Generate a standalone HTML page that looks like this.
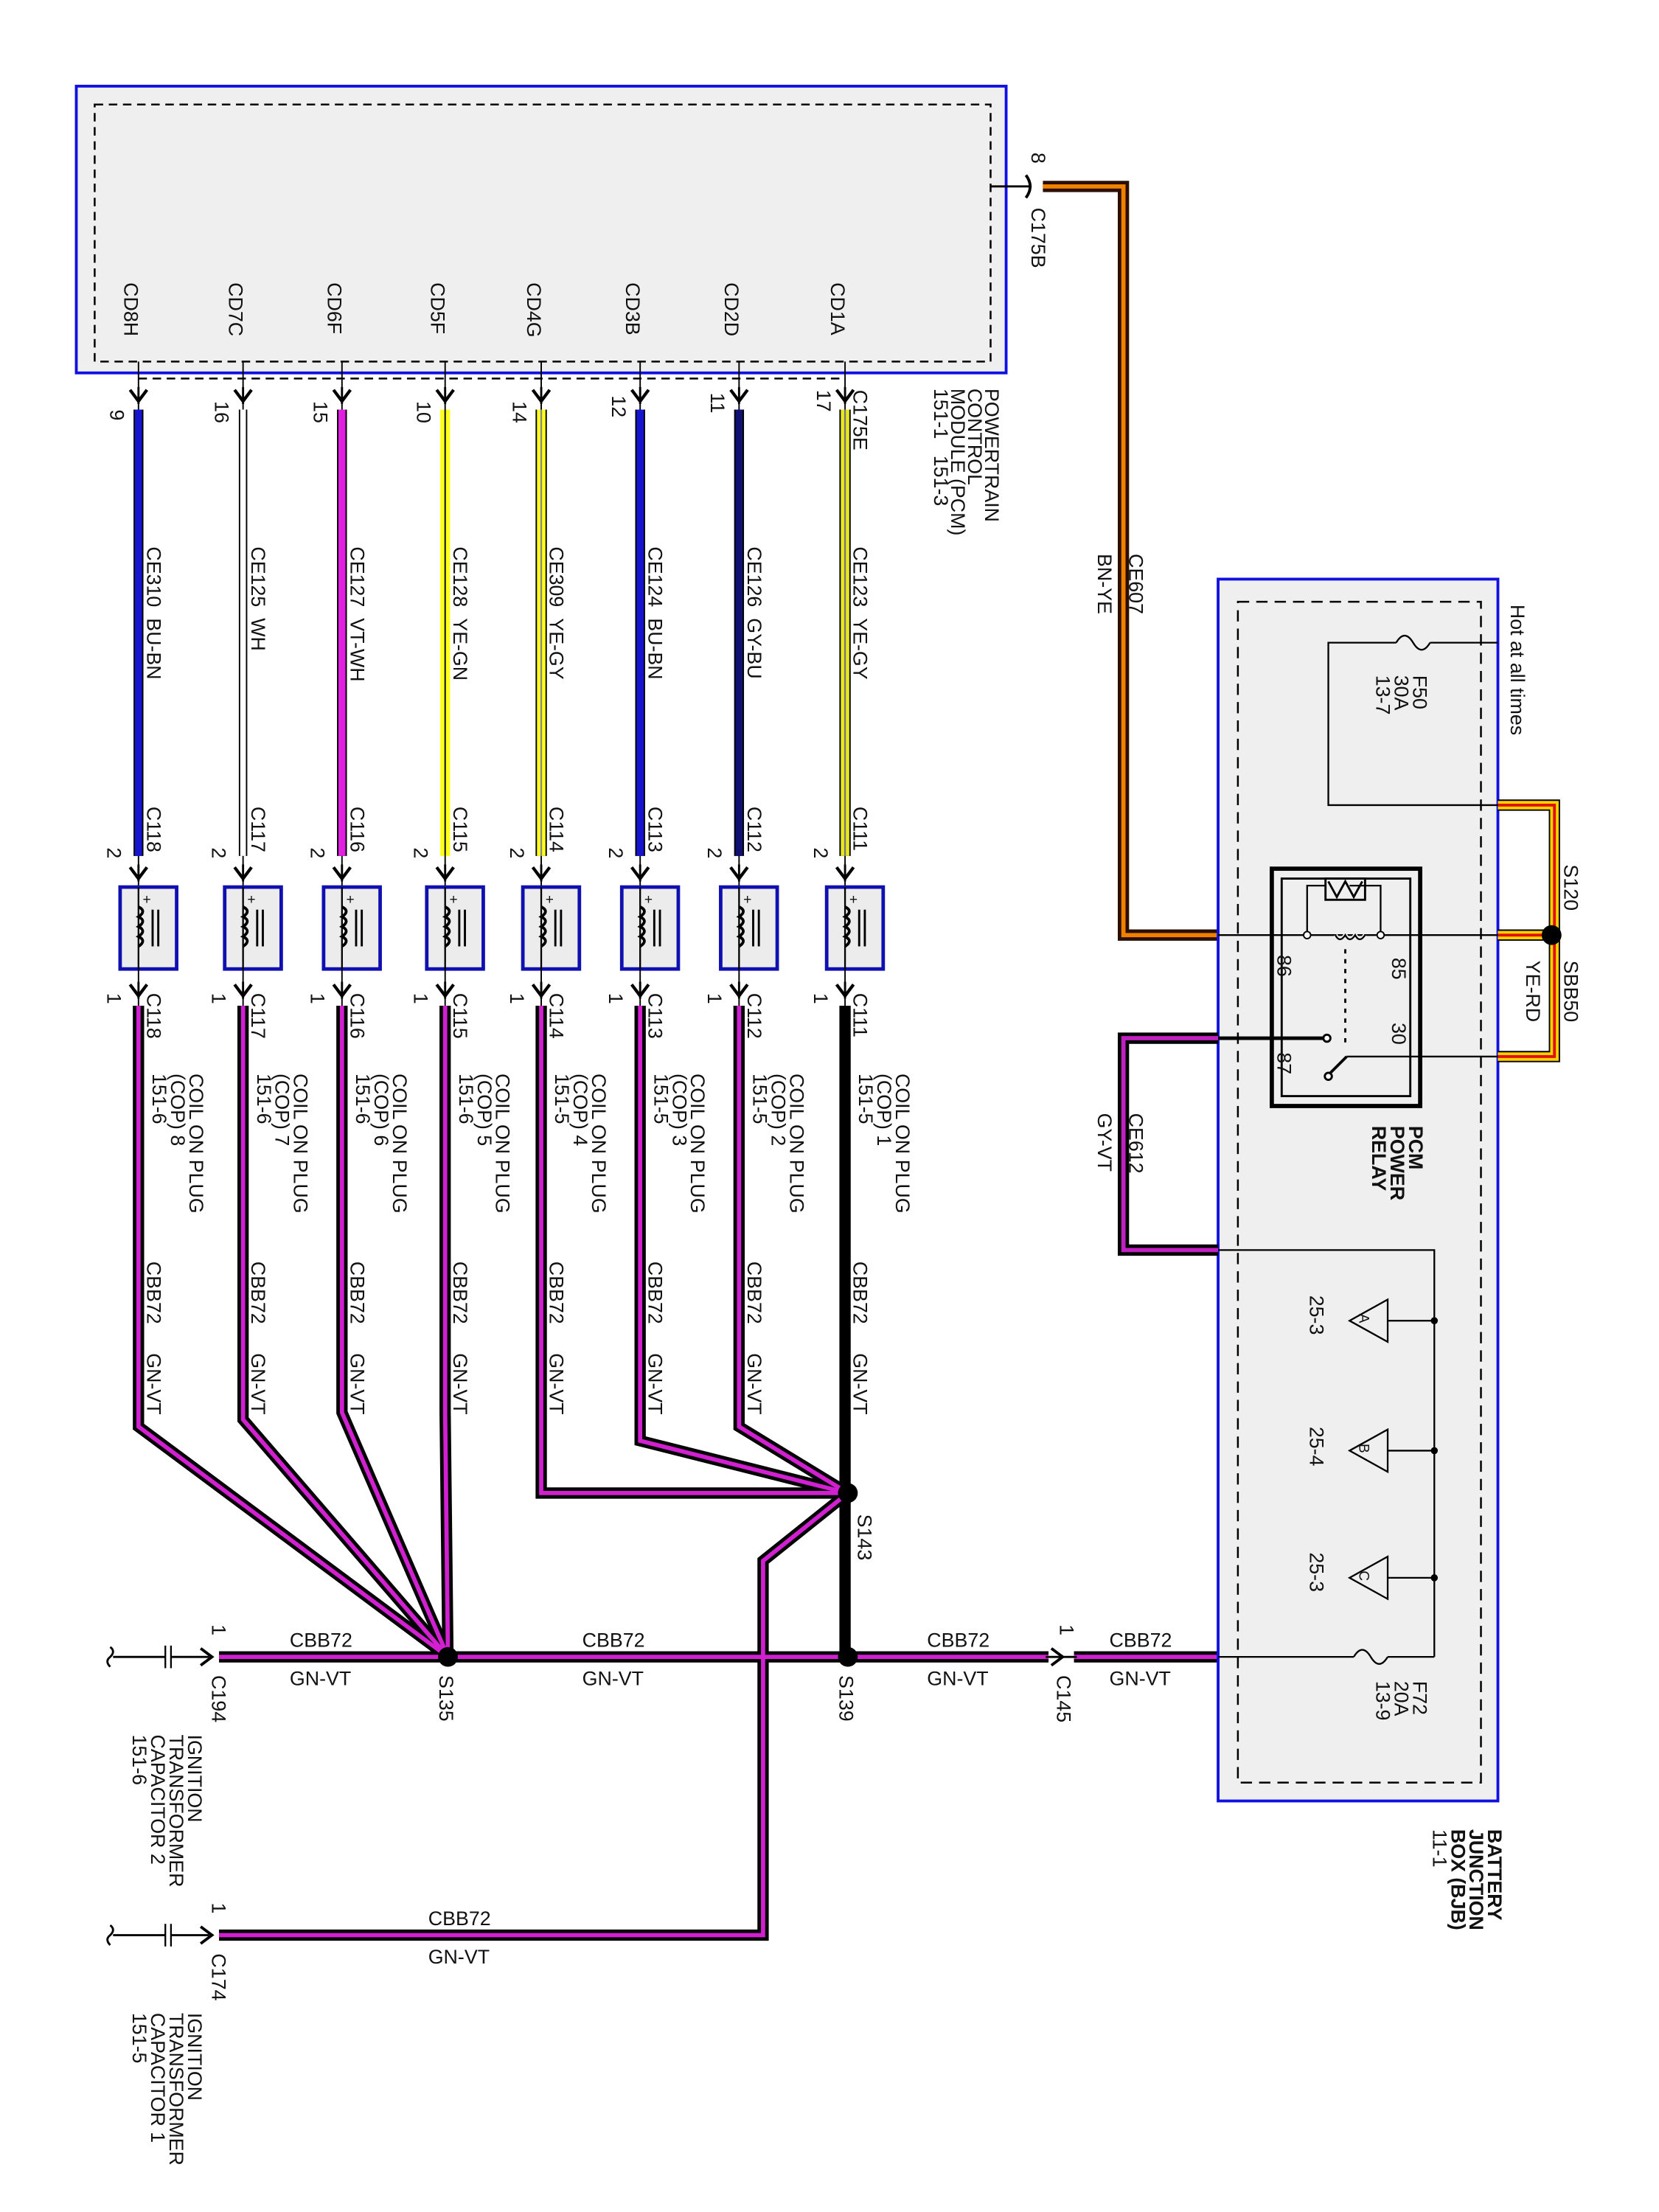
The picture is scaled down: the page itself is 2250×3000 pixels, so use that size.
<!DOCTYPE html>
<html><head><meta charset="utf-8"><style>
html,body{margin:0;padding:0;background:#fff}
svg{display:block}
text{font-family:"Liberation Sans",sans-serif;font-size:14px;fill:#111}
</style></head><body>
<svg width="2250" height="3000" viewBox="0 0 1174 1566" preserveAspectRatio="none" xmlns="http://www.w3.org/2000/svg">
<defs>
<g id="arr"><path d="M-6,-6 L0,2 L6,-6" fill="none" stroke="#000" stroke-width="2.2"/><line x1="0" y1="-8" x2="0" y2="4" stroke="#000" stroke-width="1.5"/></g>
<g id="coil">
<rect x="-13" y="0" width="40" height="58" fill="#ececec" stroke="#1010b0" stroke-width="2.5"/>
<line x1="0" y1="0" x2="0" y2="58" stroke="#000" stroke-width="1.2"/>
<path d="M0,14 q6,3 0,7 q6,3 0,7 q6,3 0,7 q6,3 0,7" fill="none" stroke="#000" stroke-width="2"/>
<line x1="10" y1="16" x2="10" y2="42" stroke="#000" stroke-width="1.5"/><line x1="14" y1="16" x2="14" y2="42" stroke="#000" stroke-width="1.5"/>
<text x="3" y="12" style="font-size:10px">+</text>
</g>
<g id="col">
<line x1="0" y1="256" x2="0" y2="290" stroke="#000" stroke-width="1"/><use href="#arr" transform="translate(0,282)"/>
<use href="#arr" transform="translate(0,620)"/><line x1="0" y1="606" x2="0" y2="628" stroke="#000" stroke-width="1"/>
<use href="#coil" transform="translate(0,628)"/>
<line x1="0" y1="686" x2="0" y2="712" stroke="#000" stroke-width="1"/><use href="#arr" transform="translate(0,703)"/>
</g>
<g id="cap">
<path d="M-2,-7 q4,3 0,7 q-4,3 0,7" fill="none" stroke="#000" stroke-width="1.5"/>
<line x1="0" y1="0" x2="37" y2="0" stroke="#000" stroke-width="1.5"/>
<line x1="37" y1="-8" x2="37" y2="8" stroke="#000" stroke-width="1.2"/>
<line x1="41" y1="-8" x2="41" y2="8" stroke="#000" stroke-width="1.2"/>
<line x1="41" y1="0" x2="68" y2="0" stroke="#000" stroke-width="1.5"/>
<path d="M62,-6 L70,0 L62,6" fill="none" stroke="#000" stroke-width="2"/>
</g>
</defs>

<!-- PCM -->
<rect x="54" y="61" width="658" height="203" fill="#efefef" stroke="#1010e0" stroke-width="2"/>
<rect x="67" y="74" width="634" height="182" fill="none" stroke="#000" stroke-width="1.3" stroke-dasharray="6,4"/>
<line x1="98" y1="268" x2="598" y2="268" stroke="#000" stroke-width="1.3" stroke-dasharray="6,4"/>

<!-- CE607 -->
<line x1="701" y1="132" x2="730" y2="132" stroke="#000" stroke-width="1.5"/>
<path d="M726,124 q6,8 0,16" fill="none" stroke="#000" stroke-width="2"/>
<path d="M738,132 H795 V662 H862" fill="none" stroke="#2a0e00" stroke-width="8"/>
<path d="M738,132 H795 V662 H862" fill="none" stroke="#f08000" stroke-width="3"/>

<!-- columns -->
<g transform="translate(98,0)"><line x1="0" y1="290" x2="0" y2="606" stroke="#000" stroke-width="7"/><line x1="0" y1="290" x2="0" y2="606" stroke="#1515d0" stroke-width="5"/><use href="#col"/></g>
<g transform="translate(172,0)"><line x1="0" y1="290" x2="0" y2="606" stroke="#000" stroke-width="6"/><line x1="0" y1="290" x2="0" y2="606" stroke="#fff" stroke-width="4"/><use href="#col"/></g>
<g transform="translate(242,0)"><line x1="0" y1="290" x2="0" y2="606" stroke="#000" stroke-width="7"/><line x1="0" y1="290" x2="0" y2="606" stroke="#e020e0" stroke-width="5"/><use href="#col"/></g>
<g transform="translate(315,0)"><line x1="0" y1="290" x2="0" y2="606" stroke="#ffff20" stroke-width="7"/><line x1="0" y1="290" x2="0" y2="606" stroke="#000" stroke-width="1"/><use href="#col"/></g>
<g transform="translate(383,0)"><line x1="0" y1="290" x2="0" y2="606" stroke="#000" stroke-width="8"/><line x1="0" y1="290" x2="0" y2="606" stroke="#ffff20" stroke-width="6"/><line x1="0" y1="290" x2="0" y2="606" stroke="#888" stroke-width="1.2"/><use href="#col"/></g>
<g transform="translate(453,0)"><line x1="0" y1="290" x2="0" y2="606" stroke="#000" stroke-width="7"/><line x1="0" y1="290" x2="0" y2="606" stroke="#1515d0" stroke-width="5"/><use href="#col"/></g>
<g transform="translate(523,0)"><line x1="0" y1="290" x2="0" y2="606" stroke="#000" stroke-width="7"/><line x1="0" y1="290" x2="0" y2="606" stroke="#101070" stroke-width="5"/><use href="#col"/></g>
<g transform="translate(598,0)"><line x1="0" y1="290" x2="0" y2="606" stroke="#000" stroke-width="8"/><line x1="0" y1="290" x2="0" y2="606" stroke="#e8e820" stroke-width="6"/><line x1="0" y1="290" x2="0" y2="606" stroke="#777" stroke-width="1.2"/><use href="#col"/></g>

<!-- GN-VT harness -->
<g fill="none">
<g stroke="#000" stroke-width="8">
<path d="M98,712 V1010 L317,1173"/><path d="M172,712 V1005 L317,1173"/><path d="M242,712 V1000 L317,1173"/><path d="M315,712 V1000 L317,1173"/>
<path d="M383,712 V1057 H600"/><path d="M453,712 V1020 L600,1057"/><path d="M523,712 V1010 L600,1057"/><path d="M598,712 V1173"/>
<path d="M600,1057 L540,1105 V1370 H155"/>
<path d="M155,1173 H862"/>
</g>
<g stroke="#d020d0" stroke-width="3">
<path d="M98,712 V1010 L317,1173"/><path d="M172,712 V1005 L317,1173"/><path d="M242,712 V1000 L317,1173"/><path d="M315,712 V1000 L317,1173"/>
<path d="M383,712 V1057 H600"/><path d="M453,712 V1020 L600,1057"/><path d="M523,712 V1010 L600,1057"/>
<path d="M600,1057 L540,1105 V1370 H155"/>
<path d="M155,1173 H598"/><path d="M602,1173 H862"/>
</g>
</g>
<circle cx="317" cy="1173" r="7" fill="#000"/><circle cx="600" cy="1173" r="7" fill="#000"/><circle cx="600" cy="1057" r="7" fill="#000"/>
<rect x="742" y="1165" width="18" height="16" fill="#fff"/>
<line x1="740" y1="1173" x2="762" y2="1173" stroke="#000" stroke-width="1.5"/>
<path d="M744,1167 L752,1173 L744,1179" fill="none" stroke="#000" stroke-width="2"/>
<use href="#cap" transform="translate(80,1173)"/>
<use href="#cap" transform="translate(80,1370)"/>

<!-- BJB -->
<rect x="862" y="410" width="198" height="865" fill="#efefef" stroke="#1010e0" stroke-width="2"/>
<rect x="876" y="426" width="172" height="836" fill="none" stroke="#000" stroke-width="1.3" stroke-dasharray="8,5"/>
<path d="M1060,455 H1012 M988,455 H940 V570 H1060" fill="none" stroke="#000" stroke-width="1.2"/>
<path d="M988,455 q6,-10 12,0 q6,10 12,0" fill="none" stroke="#000" stroke-width="1.2"/>
<path d="M1060,570 H1100 V748 H1060" fill="none" stroke="#000" stroke-width="8"/>
<path d="M1060,570 H1100 V748 H1060" fill="none" stroke="#ffd000" stroke-width="6"/>
<path d="M1060,570 H1100 V748 H1060" fill="none" stroke="#e01000" stroke-width="2"/>
<line x1="1060" y1="662" x2="1098" y2="662" stroke="#000" stroke-width="8"/>
<line x1="1060" y1="662" x2="1098" y2="662" stroke="#ffd000" stroke-width="6"/>
<line x1="1060" y1="662" x2="1098" y2="662" stroke="#e01000" stroke-width="2"/>
<circle cx="1098" cy="662" r="7" fill="#000"/>
<rect x="900" y="615" width="105" height="168" fill="none" stroke="#000" stroke-width="3"/>
<rect x="907" y="622" width="91" height="154" fill="none" stroke="#000" stroke-width="1.5"/>
<line x1="862" y1="662" x2="1060" y2="662" stroke="#000" stroke-width="1.2"/>
<path d="M925,662 V627 H938 M955,627 H977 V662" fill="none" stroke="#000" stroke-width="1.2"/>
<rect x="938" y="622" width="28" height="15" fill="none" stroke="#000" stroke-width="1.5"/>
<path d="M940,624 L946,635 L952,624 L958,635 L964,624" fill="none" stroke="#000" stroke-width="1.5"/>
<path d="M945,662 q3,6 7,0 q3,6 7,0 q3,6 7,0" fill="none" stroke="#efefef" stroke-width="3"/>
<path d="M945,662 q3,6 7,0 q3,6 7,0 q3,6 7,0" fill="none" stroke="#000" stroke-width="1.2"/>
<circle cx="925" cy="662" r="2.5" fill="#fff" stroke="#000"/><circle cx="977" cy="662" r="2.5" fill="#fff" stroke="#000"/>
<line x1="952" y1="672" x2="952" y2="740" stroke="#000" stroke-width="1.5" stroke-dasharray="3,4"/>
<line x1="862" y1="735" x2="937" y2="735" stroke="#000" stroke-width="2.5"/><circle cx="939" cy="735" r="2.5" fill="#fff" stroke="#000" stroke-width="1.5"/>
<line x1="953" y1="748" x2="1060" y2="748" stroke="#000" stroke-width="1.2"/>
<line x1="953" y1="748" x2="941" y2="760" stroke="#000" stroke-width="2"/><circle cx="940" cy="762" r="2.5" fill="#fff" stroke="#000" stroke-width="1.5"/>
<path d="M862,735 H795 V885 H862" fill="none" stroke="#000" stroke-width="8"/>
<path d="M862,735 H795 V885 H862" fill="none" stroke="#c020c0" stroke-width="3"/>
<path d="M862,885 H1015 V1173" fill="none" stroke="#000" stroke-width="1.2"/>
<g stroke="#000" stroke-width="1.2" fill="#efefef">
<line x1="982" y1="935" x2="1015" y2="935"/><line x1="982" y1="1027" x2="1015" y2="1027"/><line x1="982" y1="1117" x2="1015" y2="1117"/>
<path d="M982,920 L982,950 L955,935 Z"/><path d="M982,1012 L982,1042 L955,1027 Z"/><path d="M982,1102 L982,1132 L955,1117 Z"/>
</g>
<circle cx="1015" cy="935" r="2.5" fill="#000"/><circle cx="1015" cy="1027" r="2.5" fill="#000"/><circle cx="1015" cy="1117" r="2.5" fill="#000"/>
<path d="M1015,1173 H982 M958,1173 H862" fill="none" stroke="#000" stroke-width="1.2"/>
<path d="M958,1173 q6,-10 12,0 q6,10 12,0" fill="none" stroke="#000" stroke-width="1.2"/>

<!-- rotated labels -->
<g>
<text transform="translate(88,200) rotate(90)">CD8H</text>
<text transform="translate(162,200) rotate(90)">CD7C</text>
<text transform="translate(232,200) rotate(90)">CD6F</text>
<text transform="translate(305,200) rotate(90)">CD5F</text>
<text transform="translate(373,200) rotate(90)">CD4G</text>
<text transform="translate(443,200) rotate(90)">CD3B</text>
<text transform="translate(513,200) rotate(90)">CD2D</text>
<text transform="translate(588,200) rotate(90)">CD1A</text>
<text transform="translate(78,290) rotate(90)">9</text>
<text transform="translate(152,284) rotate(90)">16</text>
<text transform="translate(222,284) rotate(90)">15</text>
<text transform="translate(295,284) rotate(90)">10</text>
<text transform="translate(363,284) rotate(90)">14</text>
<text transform="translate(433,280) rotate(90)">12</text>
<text transform="translate(503,278) rotate(90)">11</text>
<text transform="translate(578,276) rotate(90)">17</text>
<text transform="translate(604,276) rotate(90)">C175E</text>
<text transform="translate(104,387) rotate(90)">CE310&#160;&#160;BU-BN</text>
<text transform="translate(178,387) rotate(90)">CE125&#160;&#160;WH</text>
<text transform="translate(248,387) rotate(90)">CE127&#160;&#160;VT-WH</text>
<text transform="translate(321,387) rotate(90)">CE128&#160;&#160;YE-GN</text>
<text transform="translate(389,387) rotate(90)">CE309&#160;&#160;YE-GY</text>
<text transform="translate(459,387) rotate(90)">CE124&#160;&#160;BU-BN</text>
<text transform="translate(529,387) rotate(90)">CE126&#160;&#160;GY-BU</text>
<text transform="translate(604,387) rotate(90)">CE123&#160;&#160;YE-GY</text>
</g>
<g>
<text transform="translate(104,571) rotate(90)">C118</text><text transform="translate(76,600) rotate(90)">2</text>
<text transform="translate(178,571) rotate(90)">C117</text><text transform="translate(150,600) rotate(90)">2</text>
<text transform="translate(248,571) rotate(90)">C116</text><text transform="translate(220,600) rotate(90)">2</text>
<text transform="translate(321,571) rotate(90)">C115</text><text transform="translate(293,600) rotate(90)">2</text>
<text transform="translate(389,571) rotate(90)">C114</text><text transform="translate(361,600) rotate(90)">2</text>
<text transform="translate(459,571) rotate(90)">C113</text><text transform="translate(431,600) rotate(90)">2</text>
<text transform="translate(529,571) rotate(90)">C112</text><text transform="translate(501,600) rotate(90)">2</text>
<text transform="translate(604,571) rotate(90)">C111</text><text transform="translate(576,600) rotate(90)">2</text>
</g>
<g>
<text transform="translate(104,703) rotate(90)">C118</text><text transform="translate(76,703) rotate(90)">1</text>
<text transform="translate(178,703) rotate(90)">C117</text><text transform="translate(150,703) rotate(90)">1</text>
<text transform="translate(248,703) rotate(90)">C116</text><text transform="translate(220,703) rotate(90)">1</text>
<text transform="translate(321,703) rotate(90)">C115</text><text transform="translate(293,703) rotate(90)">1</text>
<text transform="translate(389,703) rotate(90)">C114</text><text transform="translate(361,703) rotate(90)">1</text>
<text transform="translate(459,703) rotate(90)">C113</text><text transform="translate(431,703) rotate(90)">1</text>
<text transform="translate(529,703) rotate(90)">C112</text><text transform="translate(501,703) rotate(90)">1</text>
<text transform="translate(604,703) rotate(90)">C111</text><text transform="translate(576,703) rotate(90)">1</text>
</g>
<g>
<text transform="translate(134,760) rotate(90)">COIL ON PLUG</text><text transform="translate(121,760) rotate(90)">(COP) 8</text><text transform="translate(108,760) rotate(90)">151-6</text>
<text transform="translate(208,760) rotate(90)">COIL ON PLUG</text><text transform="translate(195,760) rotate(90)">(COP) 7</text><text transform="translate(182,760) rotate(90)">151-6</text>
<text transform="translate(278,760) rotate(90)">COIL ON PLUG</text><text transform="translate(265,760) rotate(90)">(COP) 6</text><text transform="translate(252,760) rotate(90)">151-6</text>
<text transform="translate(351,760) rotate(90)">COIL ON PLUG</text><text transform="translate(338,760) rotate(90)">(COP) 5</text><text transform="translate(325,760) rotate(90)">151-6</text>
<text transform="translate(419,760) rotate(90)">COIL ON PLUG</text><text transform="translate(406,760) rotate(90)">(COP) 4</text><text transform="translate(393,760) rotate(90)">151-5</text>
<text transform="translate(489,760) rotate(90)">COIL ON PLUG</text><text transform="translate(476,760) rotate(90)">(COP) 3</text><text transform="translate(463,760) rotate(90)">151-5</text>
<text transform="translate(559,760) rotate(90)">COIL ON PLUG</text><text transform="translate(546,760) rotate(90)">(COP) 2</text><text transform="translate(533,760) rotate(90)">151-5</text>
<text transform="translate(634,760) rotate(90)">COIL ON PLUG</text><text transform="translate(621,760) rotate(90)">(COP) 1</text><text transform="translate(608,760) rotate(90)">151-5</text>
</g>
<g>
<text transform="translate(104,893) rotate(90)">CBB72</text><text transform="translate(104,958) rotate(90)">GN-VT</text>
<text transform="translate(178,893) rotate(90)">CBB72</text><text transform="translate(178,958) rotate(90)">GN-VT</text>
<text transform="translate(248,893) rotate(90)">CBB72</text><text transform="translate(248,958) rotate(90)">GN-VT</text>
<text transform="translate(321,893) rotate(90)">CBB72</text><text transform="translate(321,958) rotate(90)">GN-VT</text>
<text transform="translate(389,893) rotate(90)">CBB72</text><text transform="translate(389,958) rotate(90)">GN-VT</text>
<text transform="translate(459,893) rotate(90)">CBB72</text><text transform="translate(459,958) rotate(90)">GN-VT</text>
<text transform="translate(529,893) rotate(90)">CBB72</text><text transform="translate(529,958) rotate(90)">GN-VT</text>
<text transform="translate(604,893) rotate(90)">CBB72</text><text transform="translate(604,958) rotate(90)">GN-VT</text>
</g>
<g>
<text transform="translate(697,275) rotate(90)">POWERTRAIN</text>
<text transform="translate(685,275) rotate(90)">CONTROL</text>
<text transform="translate(673,275) rotate(90)">MODULE (PCM)</text>
<text transform="translate(661,275) rotate(90)">151-1&#160;&#160;&#160;151-3</text>
<text transform="translate(730,108) rotate(90)">8</text>
<text transform="translate(730,147) rotate(90)">C175B</text>
<text transform="translate(799,392) rotate(90)">CE607</text>
<text transform="translate(777,392) rotate(90)">BN-YE</text>
<text transform="translate(1069,428) rotate(90)">Hot at all times</text>
<text transform="translate(1000,478) rotate(90)">F50</text>
<text transform="translate(987,478) rotate(90)">30A</text>
<text transform="translate(974,478) rotate(90)">13-7</text>
<text transform="translate(1107,612) rotate(90)">S120</text>
<text transform="translate(1107,680) rotate(90)">SBB50</text>
<text transform="translate(1080,680) rotate(90)">YE-RD</text>
<text transform="translate(985,678) rotate(90)">85</text>
<text transform="translate(904,676) rotate(90)">86</text>
<text transform="translate(985,724) rotate(90)">30</text>
<text transform="translate(904,745) rotate(90)">87</text>
<text transform="translate(997,797) rotate(90)" style="font-weight:bold">PCM</text>
<text transform="translate(984,797) rotate(90)" style="font-weight:bold">POWER</text>
<text transform="translate(971,797) rotate(90)" style="font-weight:bold">RELAY</text>
<text transform="translate(799,788) rotate(90)">CE612</text>
<text transform="translate(777,788) rotate(90)">GY-VT</text>
<text transform="translate(962,930) rotate(90)" style="font-size:10px">A</text>
<text transform="translate(962,1022) rotate(90)" style="font-size:10px">B</text>
<text transform="translate(962,1112) rotate(90)" style="font-size:10px">C</text>
<text transform="translate(927,917) rotate(90)">25-3</text>
<text transform="translate(927,1010) rotate(90)">25-4</text>
<text transform="translate(927,1099) rotate(90)">25-3</text>
<text transform="translate(1000,1190) rotate(90)">F72</text>
<text transform="translate(987,1190) rotate(90)">20A</text>
<text transform="translate(974,1190) rotate(90)">13-9</text>
<text transform="translate(1053,1295) rotate(90)" style="font-weight:bold">BATTERY</text>
<text transform="translate(1040,1295) rotate(90)" style="font-weight:bold">JUNCTION</text>
<text transform="translate(1027,1295) rotate(90)" style="font-weight:bold">BOX (BJB)</text>
<text transform="translate(1014,1295) rotate(90)">11-1</text>
<text transform="translate(311,1186) rotate(90)">S135</text>
<text transform="translate(594,1186) rotate(90)">S139</text>
<text transform="translate(607,1072) rotate(90)">S143</text>
<text transform="translate(748,1186) rotate(90)">C145</text>
<text transform="translate(750,1150) rotate(90)">1</text>
<text transform="translate(150,1186) rotate(90)">C194</text>
<text transform="translate(150,1150) rotate(90)">1</text>
<text transform="translate(150,1383) rotate(90)">C174</text>
<text transform="translate(150,1347) rotate(90)">1</text>
<text transform="translate(133,1228) rotate(90)">IGNITION</text>
<text transform="translate(120,1228) rotate(90)">TRANSFORMER</text>
<text transform="translate(107,1228) rotate(90)">CAPACITOR 2</text>
<text transform="translate(94,1228) rotate(90)">151-6</text>
<text transform="translate(133,1425) rotate(90)">IGNITION</text>
<text transform="translate(120,1425) rotate(90)">TRANSFORMER</text>
<text transform="translate(107,1425) rotate(90)">CAPACITOR 1</text>
<text transform="translate(94,1425) rotate(90)">151-5</text>
</g>
<g>
<text x="205" y="1166">CBB72</text><text x="205" y="1193">GN-VT</text>
<text x="412" y="1166">CBB72</text><text x="412" y="1193">GN-VT</text>
<text x="656" y="1166">CBB72</text><text x="656" y="1193">GN-VT</text>
<text x="785" y="1166">CBB72</text><text x="785" y="1193">GN-VT</text>
<text x="303" y="1363">CBB72</text><text x="303" y="1390">GN-VT</text>
</g>
</svg>
</body></html>
